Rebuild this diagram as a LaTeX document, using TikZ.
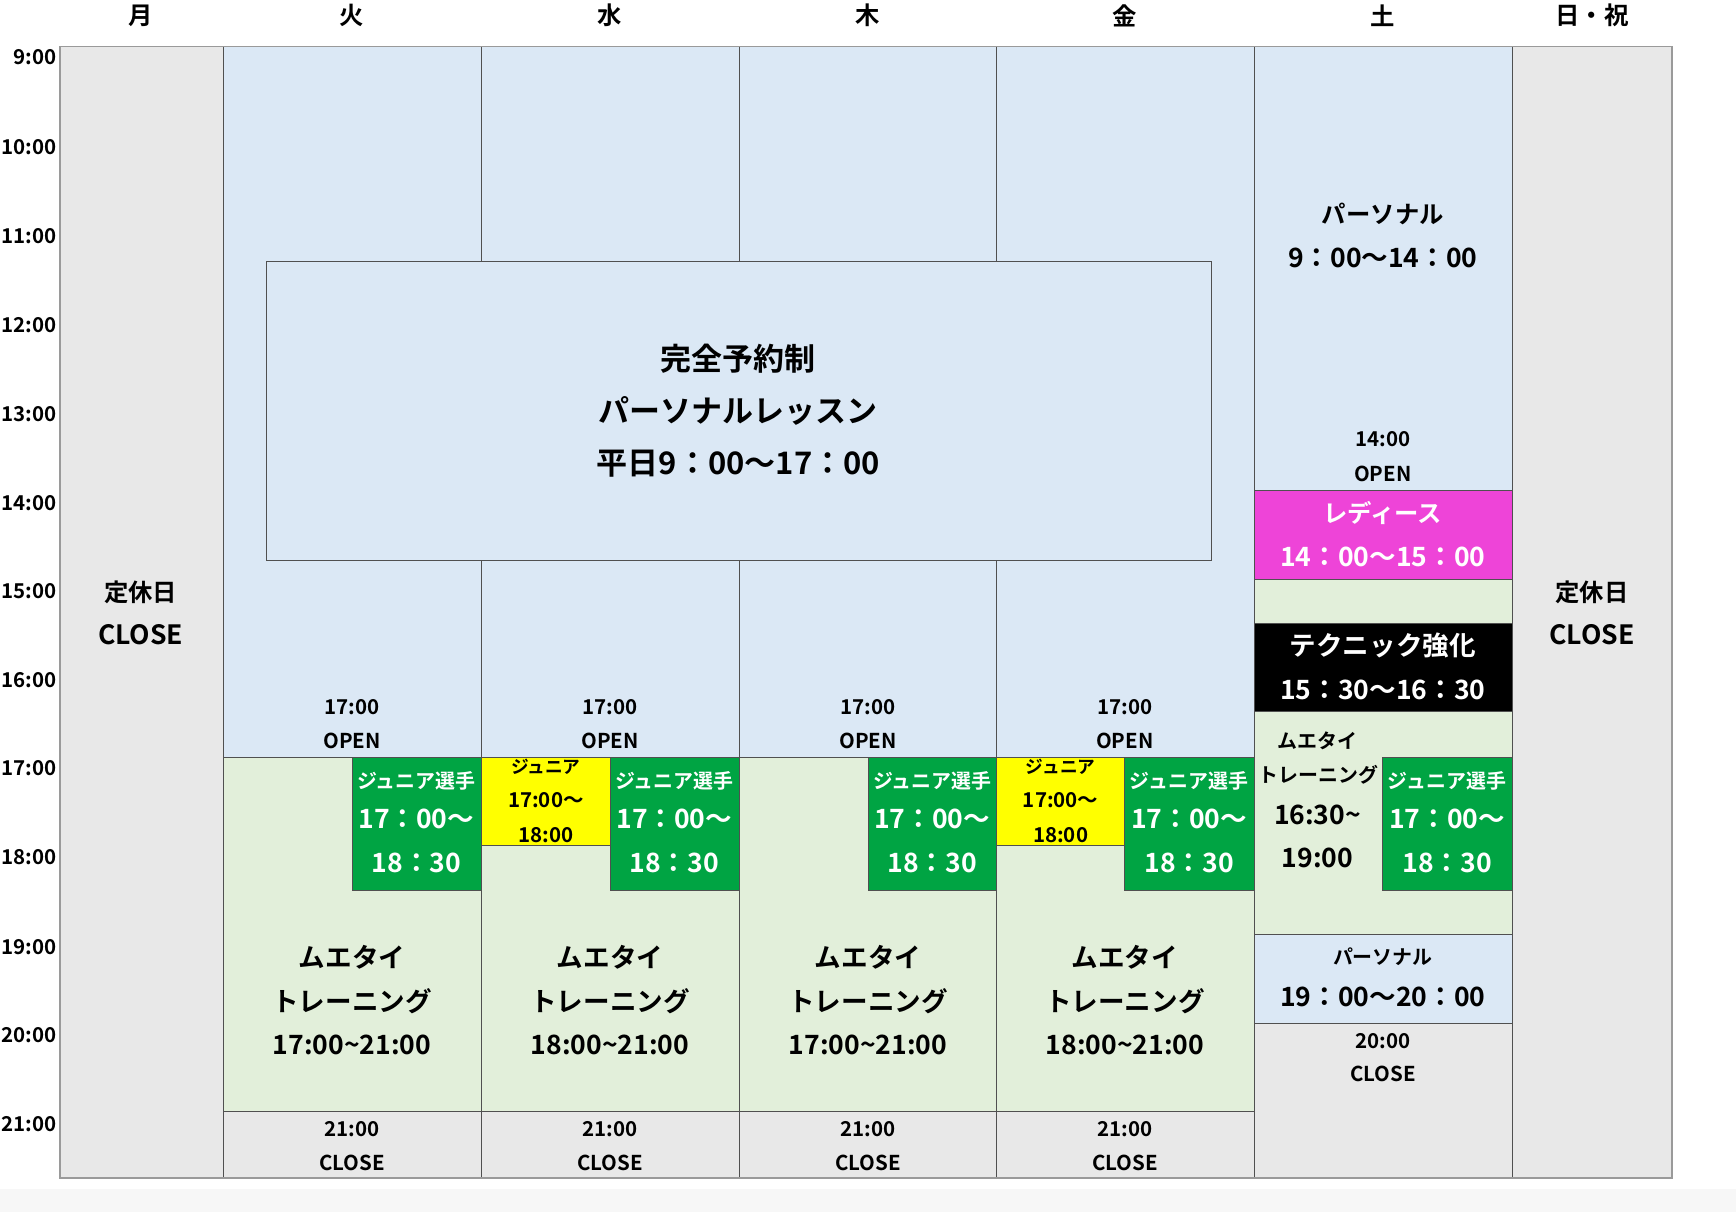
\documentclass[tikz,border=0pt]{standalone}
\usepackage{fontspec}
\setmainfont{Noto Sans CJK JP}[BoldFont={Noto Sans CJK JP Bold}]
\definecolor{cblue}{HTML}{DBE8F5}
\definecolor{cgreen}{HTML}{E2EFDA}
\definecolor{cgray}{HTML}{E8E8E8}
\definecolor{cjun}{HTML}{00A443}
\definecolor{cmag}{HTML}{EE44D8}
\definecolor{cyel}{HTML}{FFFF00}
\definecolor{cline}{HTML}{505050}
\definecolor{cout}{HTML}{9A9A9A}
\newcommand\tx[5]{\node[#4] (#1) at (#2,#3) {#5};}
\newcommand\tld{\textasciitilde}
\begin{document}
\begin{tikzpicture}[x=1pt,y=-1pt,
  cell/.style={draw=cline,line width=0.8pt},
  fs/.style={font=\fontsize{18.5}{20}\selectfont\bfseries,inner sep=0pt},
  fm/.style={font=\fontsize{22}{24}\selectfont\bfseries,inner sep=0pt},
  fb/.style={font=\fontsize{24}{26}\selectfont\bfseries,inner sep=0pt},
  fj/.style={font=\fontsize{18}{20}\selectfont\bfseries,inner sep=0pt},
  fx/.style={font=\fontsize{28}{30}\selectfont\bfseries,inner sep=0pt},
  wh/.style={text=white}]
\useasboundingbox (0,0) rectangle (1568,1095);
\fill[white] (0,0) rectangle (1568,1095);
\fill[black!3] (0,1074) rectangle (1568,1095);
% closed columns
\path[fill=cgray,draw=cline,line width=0.8pt] (54,42) rectangle (202,1064);
\path[fill=cgray,draw=cline,line width=0.8pt] (1366,42) rectangle (1510,1064);
% weekday columns
\foreach \a/\b in {202/435,435/668,668/900,900/1133}{
  \path[cell,fill=cblue] (\a,42) rectangle (\b,684);
  \path[cell,fill=cgreen] (\a,684) rectangle (\b,1004);
  \path[cell,fill=cgray] (\a,1004) rectangle (\b,1064);
}
% junior / yellow boxes
\path[cell,fill=cjun] (318,684) rectangle (435,804);
\path[cell,fill=cyel] (435,684) rectangle (551,764);
\path[cell,fill=cjun] (551,684) rectangle (668,804);
\path[cell,fill=cjun] (784,684) rectangle (900,804);
\path[cell,fill=cyel] (900,684) rectangle (1016,764);
\path[cell,fill=cjun] (1016,684) rectangle (1133,804);
% saturday
\path[cell,fill=cblue] (1133,42) rectangle (1366,443);
\path[cell,fill=cmag] (1133,443) rectangle (1366,523);
\path[cell,fill=cgreen] (1133,523) rectangle (1366,563);
\path[cell,fill=black] (1133,563) rectangle (1366,643);
\path[cell,fill=cgreen] (1133,643) rectangle (1366,844);
\path[cell,fill=cjun] (1249,684) rectangle (1366,804);
\path[cell,fill=cblue] (1133,844) rectangle (1366,924);
\path[cell,fill=cgray] (1133,924) rectangle (1366,1064);
% big box
\path[cell,fill=cblue] (241,236) rectangle (1094,506);
% outer frame
\draw[cout,line width=1.3pt] (54,42) rectangle (1510,1064);
% headers
\tx{h1}{127}{14}{fm}{月}
\tx{h2}{318}{14}{fm}{火}
\tx{h3}{551}{14}{fm}{水}
\tx{h4}{784}{14}{fm}{木}
\tx{h5}{1016}{14}{fm}{金}
\tx{h6}{1249}{14}{fm}{土}
\tx{h7}{1438}{14}{fm}{日・祝}
% time labels
\foreach \t/\y in {9/52,10/133,11/213,12/294,13/374,14/454,15/534,16/614,17/694,18/774,19/855,20/935,21/1015}{
  \node[fs,anchor=east] (tl\t) at (51,\y) {\t:00};
}
% closed
\tx{m1}{127}{535}{fm}{定休日}
\tx{m2}{127}{573}{fb}{CLOSE}
\tx{s1}{1438}{535}{fm}{定休日}
\tx{s2}{1438}{573}{fb}{CLOSE}
% big box text
\tx{b1}{667}{324}{fx}{完全予約制}
\tx{b2}{667}{371}{fx}{パーソナルレッスン}
\tx{b3}{667}{419}{fx}{平日9：00〜17：00}
% weekday texts
\foreach \c/\x/\sa in {a/318/17,b/551/18,c/784/17,d/1016/18}{
  \node[fs] (op1\c) at (\x,639) {17:00};
  \node[fs] (op2\c) at (\x,669) {OPEN};
  \node[fb] (mu1\c) at (\x,865) {ムエタイ};
  \node[fb] (mu2\c) at (\x,904) {トレーニング};
  \node[fb] (mu3\c) at (\x,944) {\sa:00\tld21:00};
  \node[fs] (cl1\c) at (\x,1020) {21:00};
  \node[fs] (cl2\c) at (\x,1050) {CLOSE};
}
% junior green texts
\foreach \c/\x in {a/376,b/609,c/842,d/1074,e/1307}{
  \node[fj,wh] (jn1\c) at (\x,705) {ジュニア選手};
  \node[fb,wh] (jn2\c) at (\x,740) {17：00〜};
  \node[fb,wh] (jn3\c) at (\x,779) {18：30};
}
% yellow texts
\foreach \c/\x in {a/493,b/958}{
  \node[font=\fontsize{16}{18}\selectfont\bfseries,inner sep=0pt] (yj1\c) at (\x,693) {ジュニア};
  \node[fs] (yj2\c) at (\x,723) {17:00〜};
  \node[fs] (yj3\c) at (\x,754) {18:00};
}
% saturday texts
\tx{sa1}{1249}{193}{fm}{パーソナル}
\tx{sa2}{1249}{233}{fb}{9：00〜14：00}
\tx{sa3}{1249}{397}{fs}{14:00}
\tx{sa4}{1249}{428}{fs}{OPEN}
\tx{sa5}{1249}{463}{fm,wh}{レディース}
\tx{sa6}{1249}{503}{fb,wh}{14：00〜15：00}
\tx{sa7}{1249}{583}{fb,wh}{テクニック強化}
\tx{sa8}{1249}{623}{fb,wh}{15：30〜16：30}
\tx{sa9}{1190}{669}{fj}{ムエタイ}
\tx{sa10}{1191}{700}{fj}{トレーニング}
\tx{sa11}{1190}{736}{fb}{16:30\tld}
\tx{sa12}{1190}{775}{fb}{19:00}
\tx{sa13}{1249}{864}{fj}{パーソナル}
\tx{sa14}{1249}{900}{fb}{19：00〜20：00}
\tx{sa15}{1249}{940}{fs}{20:00}
\tx{sa16}{1249}{970}{fs}{CLOSE}
\end{tikzpicture}
\end{document}
